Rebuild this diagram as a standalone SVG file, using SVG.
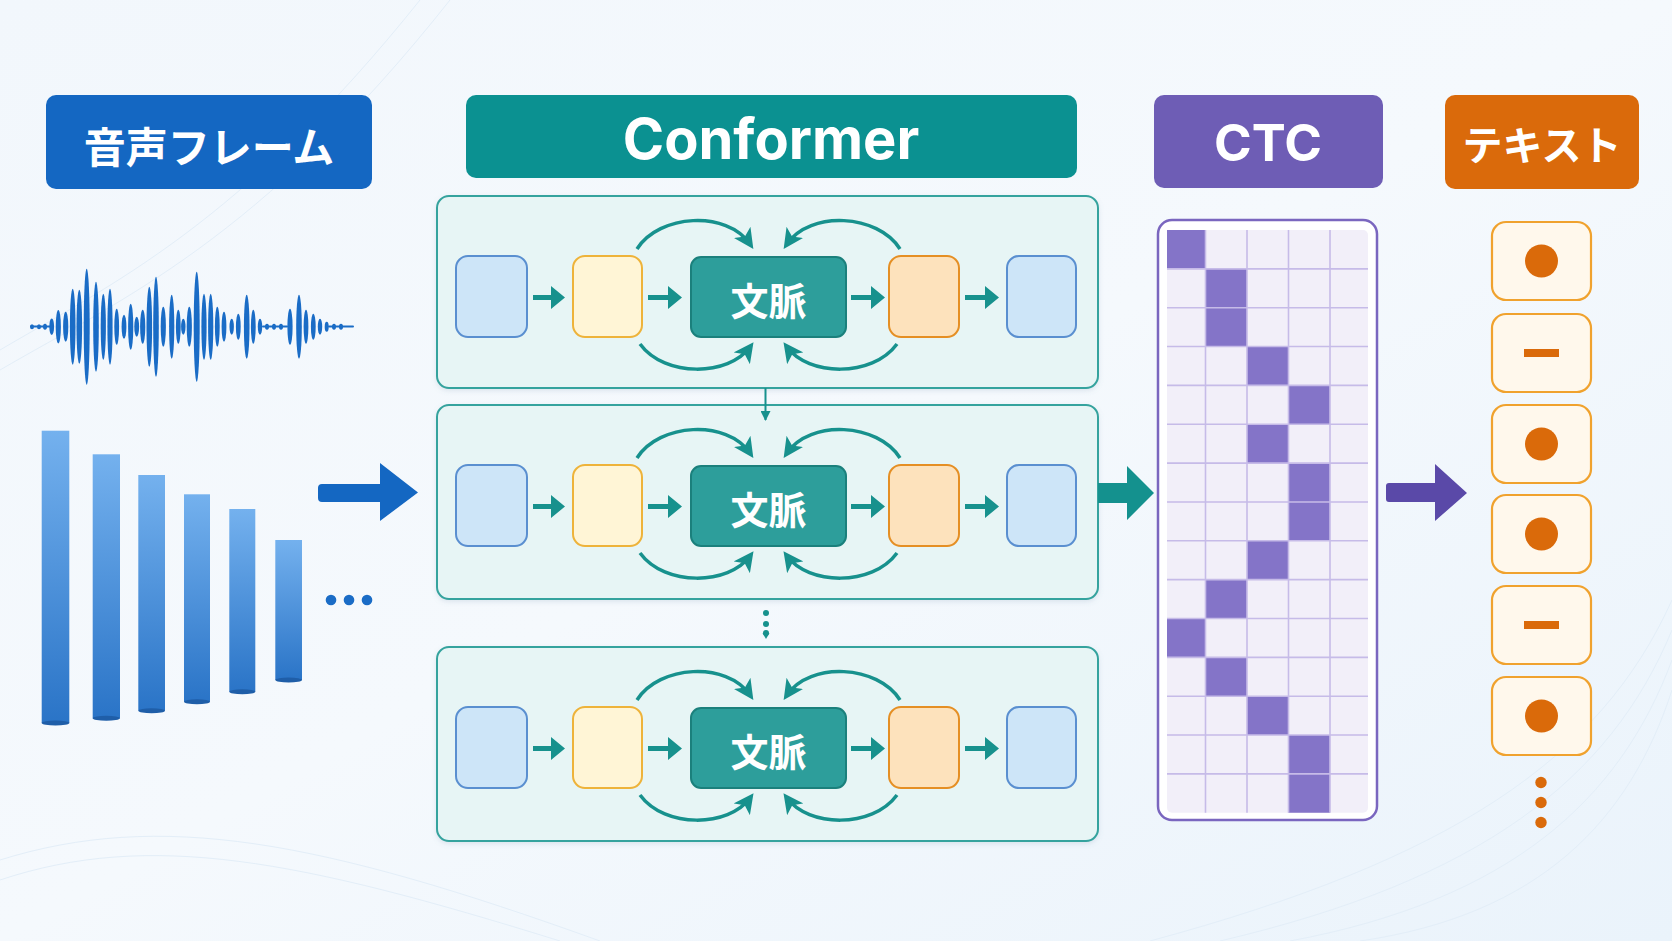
<svg xmlns="http://www.w3.org/2000/svg" width="1672" height="941" viewBox="0 0 1672 941">
<style>
.jp{font-family:"Noto Sans CJK JP","Noto Sans",sans-serif;font-weight:700;fill:#fff}
.lat{font-family:Inter,"Open Sans","Liberation Sans",sans-serif;font-weight:700;fill:#fff}
.frame{fill:#e7f5f5;stroke:#35a39e;stroke-width:2}
.bx{fill:#cde5f8;stroke:#5a8fd0;stroke-width:2}
.yx{fill:#fff5d6;stroke:#eeb33a;stroke-width:2}
.ox{fill:#fde2bc;stroke:#e58f24;stroke-width:2}
.cx{fill:#2d9e9b;stroke:#1b807c;stroke-width:2}
.curve{fill:none;stroke:#17918d;stroke-width:3.5;marker-end:url(#ah)}
.sarr{fill:#17918d}
.cell{fill:#8474c8}
.ob{fill:#fff8ec;stroke:#f0a22e;stroke-width:2.2}
.od{fill:#da6a0a}
.wv{fill:#1a6cc6}
.bg-line{fill:none;stroke:#e3eef8;stroke-width:1}
</style>
<defs>
<marker id="ah" viewBox="0 0 10 10" refX="7" refY="5" markerWidth="20" markerHeight="20" markerUnits="userSpaceOnUse" orient="auto">
<path d="M0,0 L10,5 L0,10 L2.5,5 z" fill="#17918d"/>
</marker>
<marker id="ahs" viewBox="0 0 10 10" refX="9" refY="5" markerWidth="10" markerHeight="10" markerUnits="userSpaceOnUse" orient="auto">
<path d="M0,0 L10,5 L0,10 z" fill="#17918d"/>
</marker>
<linearGradient id="barg" x1="0" y1="0" x2="0" y2="1">
<stop offset="0" stop-color="#74b1ee"/>
<stop offset="1" stop-color="#2a74c7"/>
</linearGradient>
<linearGradient id="bgg" x1="0" y1="0" x2="1" y2="1">
<stop offset="0" stop-color="#f2f7fc"/>
<stop offset="0.5" stop-color="#f5f9fd"/>
<stop offset="1" stop-color="#eaf3fb"/>
</linearGradient>
<filter id="sh" x="-5%" y="-5%" width="110%" height="115%">
<feDropShadow dx="0" dy="2" stdDeviation="2.5" flood-color="#6a8aa8" flood-opacity="0.18"/>
</filter>
</defs>

<rect width="1672" height="941" fill="url(#bgg)"/>
<g id="background-deco">
<path class="bg-line" d="M0,370 C120,300 260,240 450,0"/>
<path class="bg-line" d="M0,350 C110,285 240,225 420,0"/>
<path class="bg-line" d="M0,880 C150,830 300,860 560,941"/>
<path class="bg-line" d="M0,860 C160,810 320,840 600,941"/>
<path class="bg-line" d="M1672,600 C1600,760 1450,860 1150,941"/>
<path class="bg-line" d="M1672,630 C1610,780 1480,880 1220,941"/>
<path class="bg-line" d="M1672,660 C1620,800 1510,900 1290,941"/>
<path class="bg-line" d="M1672,690 C1630,820 1540,915 1360,941"/>
</g>

<!-- Title headers -->
<g id="hdr-audio">
<rect x="46" y="95" width="326" height="94" rx="10" fill="#1467c2"/>
<text class="jp" x="209" y="144" font-size="42" text-anchor="middle" dominant-baseline="central">音声フレーム</text>
</g>
<g id="hdr-conformer">
<rect x="466" y="95" width="611" height="83" rx="10" fill="#0b9191"/>
<text class="lat" x="771" y="139" font-size="56" text-anchor="middle" dominant-baseline="central">Conformer</text>
</g>
<g id="hdr-ctc">
<rect x="1154" y="95" width="229" height="93" rx="10" fill="#6e5db5"/>
<text class="lat" x="1268" y="142" font-size="51" text-anchor="middle" dominant-baseline="central">CTC</text>
</g>
<g id="hdr-text">
<rect x="1445" y="95" width="194" height="94" rx="10" fill="#da6a0b"/>
<text class="jp" x="1542" y="143" font-size="40" text-anchor="middle" dominant-baseline="central">テキスト</text>
</g>

<!-- Waveform -->
<g id="waveform" class="wv">
<rect x="30" y="325.5" width="22" height="2" rx="1"/>
<rect x="262" y="325.5" width="26" height="2" rx="1"/>
<rect x="328" y="325.5" width="26" height="2" rx="1"/>
<ellipse cx="51.7" cy="326.7" rx="2.4" ry="8.3"/>
<ellipse cx="58.3" cy="326.7" rx="2.6" ry="16.7"/>
<ellipse cx="65.7" cy="326.7" rx="2.6" ry="15"/>
<ellipse cx="72.7" cy="326.7" rx="2.8" ry="38"/>
<ellipse cx="79.3" cy="326.7" rx="2.8" ry="37"/>
<ellipse cx="86.7" cy="326.7" rx="3" ry="58"/>
<ellipse cx="96" cy="326.7" rx="2.8" ry="45"/>
<ellipse cx="103.3" cy="326.7" rx="2.6" ry="33"/>
<ellipse cx="110" cy="326.7" rx="2.6" ry="38"/>
<ellipse cx="116.7" cy="326.7" rx="2.4" ry="18"/>
<ellipse cx="124" cy="326.7" rx="2.4" ry="12"/>
<ellipse cx="130.7" cy="326.7" rx="2.6" ry="23"/>
<ellipse cx="136.7" cy="326.7" rx="2.4" ry="10"/>
<ellipse cx="142.7" cy="326.7" rx="2.6" ry="17"/>
<ellipse cx="149.3" cy="326.7" rx="2.8" ry="40"/>
<ellipse cx="156" cy="326.7" rx="2.8" ry="50"/>
<ellipse cx="163.3" cy="326.7" rx="2.6" ry="20"/>
<ellipse cx="171.7" cy="326.7" rx="2.6" ry="32"/>
<ellipse cx="178.3" cy="326.7" rx="2.4" ry="17"/>
<ellipse cx="183.3" cy="326.7" rx="2.2" ry="8"/>
<ellipse cx="189.3" cy="326.7" rx="2.6" ry="20"/>
<ellipse cx="196.7" cy="326.7" rx="3" ry="55"/>
<ellipse cx="204" cy="326.7" rx="2.6" ry="33"/>
<ellipse cx="210.7" cy="326.7" rx="2.6" ry="33"/>
<ellipse cx="217.3" cy="326.7" rx="2.4" ry="20"/>
<ellipse cx="224" cy="326.7" rx="2.4" ry="15"/>
<ellipse cx="231.7" cy="326.7" rx="2.2" ry="8"/>
<ellipse cx="238.3" cy="326.7" rx="2.4" ry="13"/>
<ellipse cx="246.7" cy="326.7" rx="2.8" ry="32"/>
<ellipse cx="253.3" cy="326.7" rx="2.4" ry="17"/>
<ellipse cx="260" cy="326.7" rx="2.2" ry="8"/>
<ellipse cx="267" cy="326.7" rx="2" ry="3"/>
<ellipse cx="274" cy="326.7" rx="2" ry="3"/>
<ellipse cx="281" cy="326.7" rx="2" ry="3"/>
<ellipse cx="290" cy="326.7" rx="2.6" ry="18"/>
<ellipse cx="299" cy="326.7" rx="2.8" ry="32"/>
<ellipse cx="306" cy="326.7" rx="2.4" ry="17"/>
<ellipse cx="313.3" cy="326.7" rx="2.4" ry="13"/>
<ellipse cx="320" cy="326.7" rx="2.2" ry="8"/>
<ellipse cx="326.7" cy="326.7" rx="2" ry="5"/>
<ellipse cx="334" cy="326.7" rx="2" ry="3"/>
<ellipse cx="341" cy="326.7" rx="2" ry="3"/>
<ellipse cx="32" cy="326.7" rx="2" ry="2.5"/>
<ellipse cx="39" cy="326.7" rx="2" ry="2.5"/>
<ellipse cx="45" cy="326.7" rx="2" ry="3"/>
</g>

<!-- Frame bars -->
<g id="frame-bars">
<rect x="41.7" y="430.7" width="27.6" height="292.3" fill="url(#barg)"/>
<ellipse cx="55.5" cy="723" rx="13.8" ry="2.5" fill="#1f5ea8"/>
<rect x="92.7" y="454.3" width="27.3" height="264" fill="url(#barg)"/>
<ellipse cx="106.3" cy="718.3" rx="13.6" ry="2.5" fill="#1f5ea8"/>
<rect x="138.3" y="475" width="26.7" height="235.7" fill="url(#barg)"/>
<ellipse cx="151.7" cy="710.7" rx="13.3" ry="2.5" fill="#1f5ea8"/>
<rect x="184" y="494.3" width="26" height="207.4" fill="url(#barg)"/>
<ellipse cx="197" cy="701.7" rx="13" ry="2.5" fill="#1f5ea8"/>
<rect x="229.3" y="509" width="26" height="182.7" fill="url(#barg)"/>
<ellipse cx="242.3" cy="691.7" rx="13" ry="2.5" fill="#1f5ea8"/>
<rect x="275.3" y="540" width="26.7" height="140" fill="url(#barg)"/>
<ellipse cx="288.7" cy="680" rx="13.3" ry="2.5" fill="#1f5ea8"/>
<circle cx="331" cy="600" r="5.3" fill="#1a6cc6"/>
<circle cx="349" cy="600" r="5.3" fill="#1a6cc6"/>
<circle cx="367" cy="600" r="5.3" fill="#1a6cc6"/>
</g>

<!-- Conformer blocks -->
<g id="block1" transform="translate(437,196)">
<rect class="frame" x="0" y="0" width="661" height="192" rx="12" filter="url(#sh)"/>
<rect class="bx" x="19" y="60" width="71" height="81" rx="12"/>
<rect class="yx" x="136" y="60" width="69" height="81" rx="12"/>
<rect class="cx" x="254" y="61" width="155" height="80" rx="10"/>
<text class="jp" x="331.5" y="102" font-size="38" text-anchor="middle" dominant-baseline="central">文脈</text>
<rect class="ox" x="452" y="60" width="70" height="81" rx="12"/>
<rect class="bx" x="570" y="60" width="69" height="81" rx="12"/>
</g>
<g id="block2" transform="translate(437,405)">
<rect class="frame" x="0" y="0" width="661" height="194" rx="12" filter="url(#sh)"/>
<rect class="bx" x="19" y="60" width="71" height="81" rx="12"/>
<rect class="yx" x="136" y="60" width="69" height="81" rx="12"/>
<rect class="cx" x="254" y="61" width="155" height="80" rx="10"/>
<text class="jp" x="331.5" y="102" font-size="38" text-anchor="middle" dominant-baseline="central">文脈</text>
<rect class="ox" x="452" y="60" width="70" height="81" rx="12"/>
<rect class="bx" x="570" y="60" width="69" height="81" rx="12"/>
</g>
<g id="block3" transform="translate(437,647)">
<rect class="frame" x="0" y="0" width="661" height="194" rx="12" filter="url(#sh)"/>
<rect class="bx" x="19" y="60" width="71" height="81" rx="12"/>
<rect class="yx" x="136" y="60" width="69" height="81" rx="12"/>
<rect class="cx" x="254" y="61" width="155" height="80" rx="10"/>
<text class="jp" x="331.5" y="102" font-size="38" text-anchor="middle" dominant-baseline="central">文脈</text>
<rect class="ox" x="452" y="60" width="70" height="81" rx="12"/>
<rect class="bx" x="570" y="60" width="69" height="81" rx="12"/>
</g>

<!-- CTC grid -->
<g id="ctc-grid">
<rect x="1158" y="220" width="219" height="600" rx="14" fill="#ffffff" stroke="#7a66bf" stroke-width="2.5"/>
<rect x="1167" y="230" width="201" height="582.75" rx="5" fill="#f2eff9"/>
<g class="cell">
<rect x="1167" y="230" width="38.5" height="38.85"/>
<rect x="1205.5" y="268.85" width="41.5" height="38.85"/>
<rect x="1205.5" y="307.7" width="41.5" height="38.85"/>
<rect x="1247" y="346.55" width="41.5" height="38.85"/>
<rect x="1288.5" y="385.4" width="41.5" height="38.85"/>
<rect x="1247" y="424.25" width="41.5" height="38.85"/>
<rect x="1288.5" y="463.1" width="41.5" height="38.85"/>
<rect x="1288.5" y="501.95" width="41.5" height="38.85"/>
<rect x="1247" y="540.8" width="41.5" height="38.85"/>
<rect x="1205.5" y="579.65" width="41.5" height="38.85"/>
<rect x="1167" y="618.5" width="38.5" height="38.85"/>
<rect x="1205.5" y="657.35" width="41.5" height="38.85"/>
<rect x="1247" y="696.2" width="41.5" height="38.85"/>
<rect x="1288.5" y="735.05" width="41.5" height="38.85"/>
<rect x="1288.5" y="773.9" width="41.5" height="38.85"/>
</g>
<path fill="none" stroke="#c6bbe8" stroke-width="1.6" d="M1205.5,230V812.75M1247,230V812.75M1288.5,230V812.75M1330,230V812.75M1167,268.85H1368M1167,307.7H1368M1167,346.55H1368M1167,385.4H1368M1167,424.25H1368M1167,463.1H1368M1167,501.95H1368M1167,540.8H1368M1167,579.65H1368M1167,618.5H1368M1167,657.35H1368M1167,696.2H1368M1167,735.05H1368M1167,773.9H1368"/>
</g>

<!-- Output tokens -->
<g id="tok1"><rect class="ob" x="1492" y="222" width="99" height="78" rx="14"/><circle class="od" cx="1541.5" cy="261" r="16.5"/></g>
<g id="tok2"><rect class="ob" x="1492" y="314" width="99" height="78" rx="14"/><rect class="od" x="1524" y="349" width="35" height="8"/></g>
<g id="tok3"><rect class="ob" x="1492" y="405" width="99" height="78" rx="14"/><circle class="od" cx="1541.5" cy="444" r="16.5"/></g>
<g id="tok4"><rect class="ob" x="1492" y="495" width="99" height="78" rx="14"/><circle class="od" cx="1541.5" cy="534" r="16.5"/></g>
<g id="tok5"><rect class="ob" x="1492" y="586" width="99" height="78" rx="14"/><rect class="od" x="1524" y="621" width="35" height="8"/></g>
<g id="tok6"><rect class="ob" x="1492" y="677" width="99" height="78" rx="14"/><circle class="od" cx="1541.5" cy="716" r="16.5"/></g>
<g id="tok-more" class="od">
<circle cx="1541" cy="782.5" r="5.7"/>
<circle cx="1541" cy="802.5" r="5.7"/>
<circle cx="1541" cy="822.5" r="5.7"/>
</g>

<!-- Connectors -->
<g id="connectors">
<path d="M322,484 H380 V463 L418,492.5 L380,521 V502 H322 Q318,502 318,498 V488 Q318,484 322,484 z" fill="#1467c2"/>
<path d="M1098,483 H1127 V466 L1154,493 L1127,520 V503 H1098 z" fill="#14918e"/>
<path d="M1389,483 H1435 V464 L1467,493 L1435,521 V502 H1389 Q1386,502 1386,499 V486 Q1386,483 1389,483 z" fill="#5a49a8"/>
<line x1="765.5" y1="388" x2="765.5" y2="420" stroke="#17918d" stroke-width="2" marker-end="url(#ahs)"/>
<circle cx="766" cy="613" r="3" fill="#17918d"/>
<circle cx="766" cy="624" r="3" fill="#17918d"/>
<path d="M762.5,633 L769.5,633 L766,639 z" fill="#17918d"/>
<circle cx="766" cy="633" r="3" fill="#17918d"/>
<g id="flow1" transform="translate(437,196)">
<path class="sarr" d="M96,99 H114 V90 L128,101.5 L114,113 V104 H96 z"/>
<path class="sarr" d="M211,99 H231 V90 L245,101.5 L231,113 V104 H211 z"/>
<path class="sarr" d="M414,99 H434 V90 L448,101.5 L434,113 V104 H414 z"/>
<path class="sarr" d="M528,99 H548 V90 L562,101.5 L548,113 V104 H528 z"/>
<path class="curve" d="M200,53 C222,18 290,14 313,48"/>
<path class="curve" d="M463,53 C441,18 373,14 350,48"/>
<path class="curve" d="M203,148 C228,182 292,180 313,151"/>
<path class="curve" d="M460,148 C435,182 371,180 350,151"/>
</g>
<g id="flow2" transform="translate(437,405)">
<path class="sarr" d="M96,99 H114 V90 L128,101.5 L114,113 V104 H96 z"/>
<path class="sarr" d="M211,99 H231 V90 L245,101.5 L231,113 V104 H211 z"/>
<path class="sarr" d="M414,99 H434 V90 L448,101.5 L434,113 V104 H414 z"/>
<path class="sarr" d="M528,99 H548 V90 L562,101.5 L548,113 V104 H528 z"/>
<path class="curve" d="M200,53 C222,18 290,14 313,48"/>
<path class="curve" d="M463,53 C441,18 373,14 350,48"/>
<path class="curve" d="M203,148 C228,182 292,180 313,151"/>
<path class="curve" d="M460,148 C435,182 371,180 350,151"/>
</g>
<g id="flow3" transform="translate(437,647)">
<path class="sarr" d="M96,99 H114 V90 L128,101.5 L114,113 V104 H96 z"/>
<path class="sarr" d="M211,99 H231 V90 L245,101.5 L231,113 V104 H211 z"/>
<path class="sarr" d="M414,99 H434 V90 L448,101.5 L434,113 V104 H414 z"/>
<path class="sarr" d="M528,99 H548 V90 L562,101.5 L548,113 V104 H528 z"/>
<path class="curve" d="M200,53 C222,18 290,14 313,48"/>
<path class="curve" d="M463,53 C441,18 373,14 350,48"/>
<path class="curve" d="M203,148 C228,182 292,180 313,151"/>
<path class="curve" d="M460,148 C435,182 371,180 350,151"/>
</g>
</g>
</svg>
